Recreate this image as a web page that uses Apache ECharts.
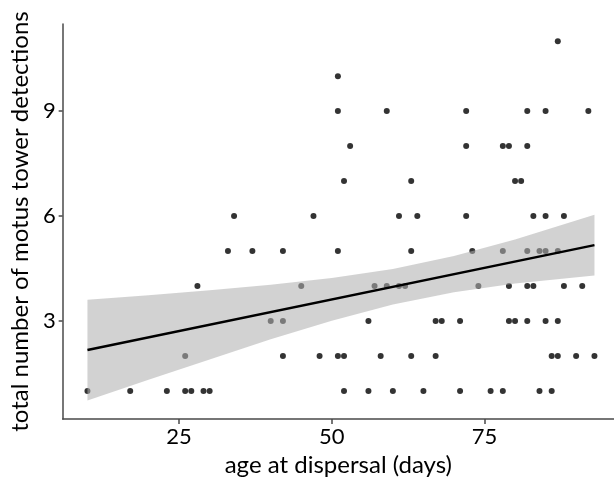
<!DOCTYPE html>
<html>
<head>
<meta charset="utf-8">
<script src="https://cdn.jsdelivr.net/npm/echarts@6/dist/echarts.min.js"></script>
<style>
  html, body { margin: 0; padding: 0; background: #fff; }
  #chart { width: 614px; height: 491px; }
</style>
</head>
<body>
<div id="chart"></div>
<script>
// ages (days) of birds, grouped by their total number of tower detections
const ageAt1 = [10, 17, 23, 26, 27, 29, 30, 52, 56, 60, 65, 71, 76, 78, 84, 86]
const ageAt2 = [26, 42, 48, 51, 52, 58, 63, 67, 86, 87, 90, 93]
const ageAt3 = [40, 42, 56, 67, 68, 71, 79, 80, 82, 85, 87]
const ageAt4 = [28, 45, 57, 59, 61, 62, 74, 79, 82, 83, 88, 91]
const ageAt5 = [33, 37, 42, 51, 63, 73, 78, 82, 84, 85, 87]
const ageAt6 = [34, 47, 61, 64, 72, 83, 85, 88]
const ageAt7 = [52, 63, 80, 81]
const ageAt8 = [53, 72, 78, 79, 82]
const ageAt9 = [51, 59, 72, 82, 85, 92]
const ageAt10 = [51]
const ageAt11 = [87]

// linear fit and its confidence band
const fitAge = [10, 93]
const fitValue = [2.17, 5.17]
const bandAge = [10, 20, 30, 40, 50, 60, 70, 80, 93]
const bandUpper = [3.61, 3.74, 3.88, 4.04, 4.23, 4.49, 4.86, 5.33, 6.04]
const bandLower = [0.73, 1.32, 1.90, 2.48, 3.01, 3.47, 3.82, 4.07, 4.30]

const xTicks = [25, 50, 75]
const yTicks = [3, 6, 9]

const groups = [ageAt1, ageAt2, ageAt3, ageAt4, ageAt5, ageAt6, ageAt7, ageAt8, ageAt9, ageAt10, ageAt11]
const points = []
groups.forEach((ages, i) => {
  ages.forEach(a => points.push([a, i + 1]))
})

const font = 'Lato'
const axisColor = '#4a4a4a'

const chart = echarts.init(document.getElementById('chart'))

const option = {
  animation: false,
  grid: { left: 60, right: 0, top: 24, bottom: 72 },
  xAxis: {
    type: 'value',
    min: 5.94,
    max: 96.2,
    name: 'age at dispersal (days)',
    nameLocation: 'middle',
    nameGap: 32,
    nameTextStyle: { fontFamily: font, fontSize: 24, color: '#000' },
    axisLine: { show: true, onZero: false, lineStyle: { color: axisColor, width: 1.5 } },
    axisTick: { show: true, length: 5, customValues: xTicks, lineStyle: { color: axisColor, width: 1.5 } },
    axisLabel: { customValues: xTicks, fontFamily: font, fontSize: 22, color: '#000', margin: 7 },
    splitLine: { show: false }
  },
  yAxis: {
    type: 'value',
    min: 0.2,
    max: 11.49,
    name: 'total number of motus tower detections',
    nameLocation: 'middle',
    nameGap: 26,
    nameTextStyle: { fontFamily: font, fontSize: 24, color: '#000' },
    axisLine: { show: true, onZero: false, lineStyle: { color: axisColor, width: 1.5 } },
    axisTick: { show: true, length: 4, customValues: yTicks, lineStyle: { color: axisColor, width: 1.5 } },
    axisLabel: { customValues: yTicks, fontFamily: font, fontSize: 22, color: '#000', margin: 7 },
    splitLine: { show: false }
  },
  series: [
    {
      type: 'scatter',
      z: 2,
      data: points,
      symbolSize: 6,
      itemStyle: { color: '#000' }
    },
    {
      type: 'custom',
      z: 3,
      silent: true,
      data: [[bandAge[0], bandLower[0]]],
      renderItem: (params, api) => {
        const top = bandAge.map((a, i) => api.coord([a, bandUpper[i]]))
        const bottom = bandAge.map((a, i) => api.coord([a, bandLower[i]])).reverse()
        return {
          type: 'polygon',
          shape: { points: top.concat(bottom) },
          style: { fill: 'rgba(176,176,176,0.57)' }
        }
      }
    },
    {
      type: 'line',
      z: 4,
      data: fitAge.map((a, i) => [a, fitValue[i]]),
      showSymbol: false,
      lineStyle: { color: '#000', width: 2.5 }
    }
  ]
}

chart.setOption(option)
</script>
</body>
</html>
